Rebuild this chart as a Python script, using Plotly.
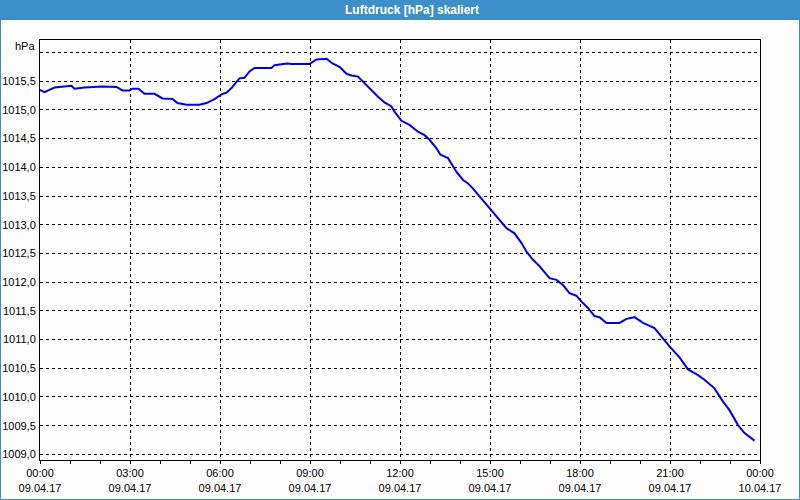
import plotly.graph_objects as go
import pandas as pd

# Minutes after 09.04.17 00:00 and pressure values (hPa)
minutes = [0, 9, 29, 55, 63, 69, 89, 125, 153, 165, 179, 185, 197, 209, 229, 245, 265, 275,
           293, 319, 333, 349, 363, 373, 383, 393, 399, 409, 419, 429, 463, 469, 483, 494,
           503, 539, 553, 563, 573, 585, 599, 613, 623, 636, 646, 659, 676, 689, 703, 709,
           723, 739, 756, 769, 779, 793, 801, 816, 823, 833, 846, 856, 866, 883, 899, 919,
           933, 949, 963, 973, 986, 999, 1009, 1019, 1033, 1046, 1059, 1073, 1083, 1096,
           1109, 1119, 1133, 1159, 1173, 1189, 1206, 1219, 1229, 1243, 1259, 1279, 1296,
           1316, 1329, 1349, 1366, 1379, 1396, 1409, 1429]
pressure = [1015.35, 1015.31, 1015.39, 1015.42, 1015.42, 1015.37, 1015.39, 1015.41, 1015.40,
            1015.34, 1015.34, 1015.37, 1015.37, 1015.28, 1015.28, 1015.20, 1015.19, 1015.12,
            1015.09, 1015.09, 1015.12, 1015.19, 1015.27, 1015.30, 1015.38, 1015.49, 1015.55,
            1015.56, 1015.67, 1015.73, 1015.73, 1015.78, 1015.79, 1015.81, 1015.80, 1015.80,
            1015.88, 1015.89, 1015.89, 1015.81, 1015.75, 1015.63, 1015.60, 1015.58, 1015.49,
            1015.37, 1015.23, 1015.13, 1015.06, 1014.97, 1014.81, 1014.74, 1014.62, 1014.56,
            1014.48, 1014.33, 1014.22, 1014.16, 1014.07, 1013.92, 1013.78, 1013.72, 1013.63,
            1013.45, 1013.28, 1013.08, 1012.94, 1012.85, 1012.68, 1012.53, 1012.39, 1012.28,
            1012.18, 1012.07, 1012.04, 1011.95, 1011.81, 1011.76, 1011.66, 1011.55, 1011.41,
            1011.39, 1011.29, 1011.29, 1011.36, 1011.39, 1011.29, 1011.24, 1011.20, 1011.05,
            1010.88, 1010.69, 1010.48, 1010.38, 1010.30, 1010.15, 1009.92, 1009.77, 1009.51,
            1009.37, 1009.24]

start = "2017-04-09 00:00"
x_tick_times = ["2017-04-09 00:00", "2017-04-09 03:00", "2017-04-09 06:00", "2017-04-09 09:00",
                "2017-04-09 12:00", "2017-04-09 15:00", "2017-04-09 18:00", "2017-04-09 21:00",
                "2017-04-10 00:00"]
x_tick_labels = ["00:00<br>09.04.17", "03:00<br>09.04.17", "06:00<br>09.04.17",
                 "09:00<br>09.04.17", "12:00<br>09.04.17", "15:00<br>09.04.17",
                 "18:00<br>09.04.17", "21:00<br>09.04.17", "00:00<br>10.04.17"]
y_tick_vals = [1009.0, 1009.5, 1010.0, 1010.5, 1011.0, 1011.5, 1012.0, 1012.5, 1013.0,
               1013.5, 1014.0, 1014.5, 1015.0, 1015.5, 1016.0]
y_tick_labels = ["1009,0", "1009,5", "1010,0", "1010,5", "1011,0", "1011,5", "1012,0",
                 "1012,5", "1013,0", "1013,5", "1014,0", "1014,5", "1015,0", "1015,5", ""]
title = "Luftdruck [hPa] skaliert"
unit = "hPa"

times = pd.Timestamp(start) + pd.to_timedelta(minutes, unit="min")

BLUE_BAR = "#3d90c7"
BG = "#fcfdfc"
FONT = "Liberation Sans"

fig = go.Figure()
fig.add_trace(go.Scatter(x=times, y=pressure, mode="lines",
                         line=dict(color="#0000e6", width=2), hoverinfo="skip"))

W, H = 800, 500
L, R, T, B = 40, 40, 40, 40
pw, ph = W - L - R, H - T - B

def px(xp):
    return (xp - L) / pw

def py(yp):
    return (H - B - yp) / ph

fig.update_layout(
    width=W, height=H,
    margin=dict(l=L, r=R, t=T, b=B, autoexpand=False),
    paper_bgcolor=BG, plot_bgcolor=BG,
    showlegend=False,
    font=dict(family=FONT, size=11, color="black"),
    xaxis=dict(
        type="date", automargin=False,
        range=[x_tick_times[0], x_tick_times[-1]],
        tickvals=x_tick_times, ticktext=x_tick_labels,
        showgrid=True, gridcolor="black", gridwidth=1, griddash="3px,3px",
        showline=True, linecolor="black", linewidth=1, mirror=True,
        ticks="outside", ticklen=3, tickcolor="black", tickwidth=1,
        minor=dict(dtick=3600000, ticks="outside", ticklen=3, tickcolor="black", showgrid=False),
        zeroline=False, fixedrange=True,
        tickfont=dict(family=FONT, size=11, color="black"),
    ),
    yaxis=dict(
        automargin=False,
        range=[1008.902, 1016.218],
        tickvals=y_tick_vals, ticktext=y_tick_labels,
        showgrid=True, gridcolor="black", gridwidth=1, griddash="3px,3px",
        showline=True, linecolor="black", linewidth=1, mirror=True,
        ticks="", ticklabelstandoff=1,
        zeroline=False, fixedrange=True,
        tickfont=dict(family=FONT, size=11, color="black"),
    ),
    shapes=[
        dict(type="rect", xref="paper", yref="paper",
             x0=px(0), x1=px(800), y0=py(20), y1=py(0),
             fillcolor=BLUE_BAR, line=dict(width=0), layer="above"),
        dict(type="rect", xref="paper", yref="paper",
             x0=px(0.5), x1=px(799.5), y0=py(499.5), y1=py(0.5),
             fillcolor="rgba(0,0,0,0)", line=dict(color=BLUE_BAR, width=1), layer="above"),
    ],
    annotations=[
        dict(text="<b>" + title + "</b>", xref="paper", yref="paper",
             x=px(412), y=py(10), xanchor="center", yanchor="middle", showarrow=False,
             font=dict(family=FONT, size=12, color="white")),
        dict(text=unit, xref="paper", yref="paper",
             x=px(37), y=py(46), xanchor="right", yanchor="middle", showarrow=False,
             font=dict(family=FONT, size=11, color="black")),
    ],
)

fig.write_html("out.html")
